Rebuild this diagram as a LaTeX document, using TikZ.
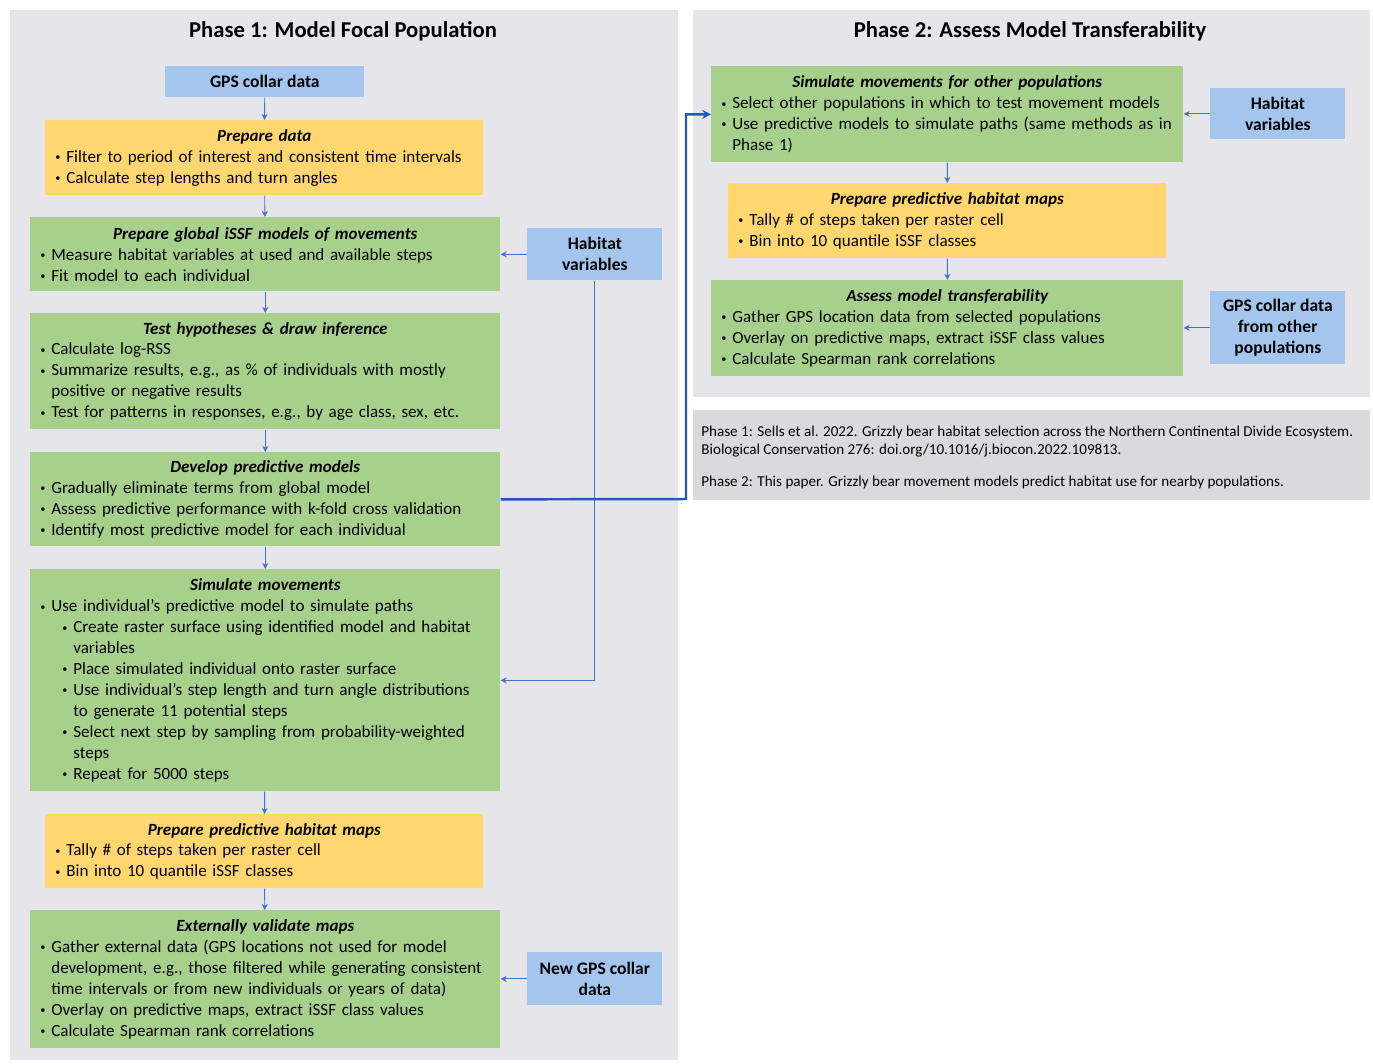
\documentclass[tikz,border=0pt]{standalone}
\usepackage{fontspec}
\setmainfont{Carlito}
\usetikzlibrary{arrows.meta}

\definecolor{panelgray}{HTML}{E6E6EA}
\definecolor{citegray}{HTML}{DADADC}
\definecolor{boxblue}{HTML}{A4C6EE}
\definecolor{boxgreen}{HTML}{A7D08C}
\definecolor{boxyellow}{HTML}{FFD670}
\definecolor{linkblue}{HTML}{4472C4}
\definecolor{phaseblue}{HTML}{2257BB}

\newcommand{\smallbul}{\raisebox{0.2ex}{\scalebox{0.6}{\textbullet}}}
\newcommand{\boxtitle}[1]{\makebox[\linewidth][c]{\bfseries\itshape #1}\par}
\newcommand{\bul}[1]{\hangindent=0.22cm\hangafter=1\noindent\makebox[0.22cm][l]{\smallbul}#1\par}
\newcommand{\subbul}[1]{\hangindent=0.66cm\hangafter=1\noindent\hspace*{0.44cm}\makebox[0.22cm][l]{\smallbul}#1\par}

\tikzset{
	stage/.style={anchor=north west, inner xsep=0.2cm, inner ysep=0pt, align=left,
		font=\fontsize{9.7}{11.9}\selectfont},
	greenbox/.style={stage, fill=boxgreen, text width=9.0cm},
	yellowbox/.style={stage, fill=boxyellow, text width=8.36cm},
	inputbox/.style={anchor=north west, fill=boxblue, align=center, inner sep=0pt,
		font=\fontsize{10}{12}\selectfont\bfseries, minimum width=2.7cm},
	phasetitle/.style={font=\fontsize{12.9}{15}\selectfont\bfseries},
	arr/.style={-{Stealth[length=3.5pt,width=3.5pt]}, linkblue, line width=0.5pt},
	link/.style={-{Stealth[length=5pt,width=5pt]}, phaseblue, line width=1.4pt}
}

\begin{document}
\begin{tikzpicture}[x=0.02cm,y=-0.02cm]
		\useasboundingbox (0,0) rectangle (1373,1063);
		%panels
		\fill[panelgray] (10,10) rectangle (678,1060);
		\fill[panelgray] (693,10) rectangle (1370,397);
		\fill[citegray] (693,410) rectangle (1370,500);
		
		%phase 1
		\node[phasetitle] (title1) at (343,31) {Phase 1: Model Focal Population};
		
		\node[inputbox, minimum width=3.98cm, minimum height=0.62cm] (gps) at (165,66) {GPS collar data};
		\node[yellowbox, minimum height=1.5cm] (prep) at (45,120) {%
			\boxtitle{Prepare data}
			\bul{Filter to period of interest and consistent time intervals}
			\bul{Calculate step lengths and turn angles}};
		\node[greenbox, minimum height=1.48cm] (issf) at (30,217) {%
			\boxtitle{Prepare global iSSF models of movements}
			\bul{Measure habitat variables at used and available steps}
			\bul{Fit model to each individual}};
		\node[inputbox, minimum height=1.04cm] (hab) at (527,228) {Habitat\\variables};
		\node[greenbox, minimum height=2.32cm] (test) at (30,313) {%
			\boxtitle{Test hypotheses \& draw inference}
			\bul{Calculate log-RSS}
			\bul{Summarize results, e.g., as \% of individuals with mostly\newline positive or negative results}
			\bul{Test for patterns in responses, e.g., by age class, sex, etc.}};
		\node[greenbox, minimum height=1.88cm] (dev) at (30,452) {%
			\boxtitle{Develop predictive models}
			\bul{Gradually eliminate terms from global model}
			\bul{Assess predictive performance with k-fold cross validation}
			\bul{Identify most predictive model for each individual}};
		\node[greenbox, minimum height=4.44cm] (sim) at (30,569) {%
			\boxtitle{Simulate movements}
			\bul{Use individual’s predictive model to simulate paths}
			\subbul{Create raster surface using identified model and habitat\newline variables}
			\subbul{Place simulated individual onto raster surface}
			\subbul{Use individual’s step length and turn angle distributions\newline to generate 11 potential steps}
			\subbul{Select next step by sampling from probability-weighted\newline steps}
			\subbul{Repeat for 5000 steps}};
		\node[yellowbox, minimum height=1.48cm] (maps) at (45,814) {%
			\boxtitle{Prepare predictive habitat maps}
			\bul{Tally \# of steps taken per raster cell}
			\bul{Bin into 10 quantile iSSF classes}};
		\node[greenbox, minimum height=2.76cm] (ext) at (30,910) {%
			\boxtitle{Externally validate maps}
			\bul{Gather external data (GPS locations not used for model\newline development, e.g., those filtered while generating consistent\newline time intervals or from new individuals or years of data)}
			\bul{Overlay on predictive maps, extract iSSF class values}
			\bul{Calculate Spearman rank correlations}};
		\node[inputbox, minimum height=1.06cm] (newgps) at (527,952) {New GPS collar\\data};
		
		\draw[arr] (gps) -- (prep);
		\draw[arr] (prep) -- (issf);
		\draw[arr] (issf) -- (test);
		\draw[arr] (test) -- (dev);
		\draw[arr] (dev) -- (sim);
		\draw[arr] (sim) -- (maps);
		\draw[arr] (maps) -- (ext);
		\draw[arr] (hab.west) -- (hab.west -| issf.east);
		\draw[arr] (hab.south) |- (sim.east);
		\draw[arr] (newgps.west) -- (newgps.west -| ext.east);
		
		%phase 2
		\node[phasetitle] (title2) at (1030,31) {Phase 2: Assess Model Transferability};
		
		\node[greenbox, text width=9.04cm, minimum height=1.92cm] (simpop) at (711,66) {%
			\boxtitle{Simulate movements for other populations}
			\bul{Select other populations in which to test movement models}
			\bul{Use predictive models to simulate paths (same methods as in\newline Phase 1)}};
		\node[inputbox, minimum height=1.02cm] (habpop) at (1210,88) {Habitat\\variables};
		\node[yellowbox, minimum height=1.5cm] (mapspop) at (728,183) {%
			\boxtitle{Prepare predictive habitat maps}
			\bul{Tally \# of steps taken per raster cell}
			\bul{Bin into 10 quantile iSSF classes}};
		\node[greenbox, text width=9.04cm, minimum height=1.92cm] (assess) at (711,280) {%
			\boxtitle{Assess model transferability}
			\bul{Gather GPS location data from selected populations}
			\bul{Overlay on predictive maps, extract iSSF class values}
			\bul{Calculate Spearman rank correlations}};
		\node[inputbox, minimum height=1.46cm] (gpspop) at (1210,291) {GPS collar data\\from other\\populations};
		
		\draw[arr] (habpop.west) -- (habpop.west -| simpop.east);
		\draw[arr] (simpop) -- (mapspop);
		\draw[arr] (mapspop) -- (assess);
		\draw[arr] (gpspop.west) -- (gpspop.west -| assess.east);
		
		%link between phases
		\coordinate (turn) at (686,499);
		\draw[link] (dev.east) -- (turn) |- (simpop.west);
		
		%references
		\node[anchor=north west, inner sep=0pt, align=left, font=\fontsize{8.6}{10.2}\selectfont] (cite) at (701,426)
			{Phase 1: Sells et al. 2022. Grizzly bear habitat selection across the Northern Continental Divide Ecosystem.\\
			Biological Conservation 276: doi.org/10.1016/j.biocon.2022.109813.\\[8pt]
			Phase 2: This paper. Grizzly bear movement models predict habitat use for nearby populations.};
\end{tikzpicture}
\end{document}
